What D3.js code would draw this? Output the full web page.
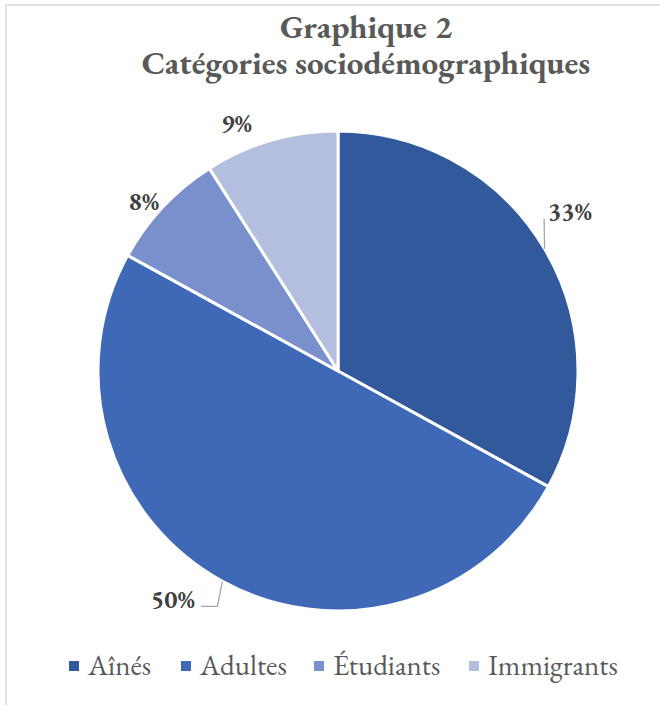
<!DOCTYPE html>
<html>
<head>
<meta charset="utf-8">
<script src="https://cdn.jsdelivr.net/npm/d3@7"></script>
<style>
  html, body { margin: 0; padding: 0; background: #fff; }
  svg { display: block; }
</style>
</head>
<body>
<svg id="chart" width="660" height="705"></svg>
<script>
const TITLE_LINES = ["Graphique 2", "Catégories sociodémographiques"];
const CATEGORIES = ["Aînés", "Adultes", "Étudiants", "Immigrants"];
const VALUES = [33, 50, 8, 9];
const COLORS = ["#31599b", "#3f69b7", "#7a90cd", "#b4bedf"];
// label placement: angle shift (deg) from slice middle, radius, leader line or not
const LABEL_LAYOUT = [
  { shift: -4, radius: 282, leader: true },
  { shift: 7, radius: 282, leader: true },
  { shift: -2, radius: 258, leader: false },
  { shift: -6, radius: 268, leader: false }
];

const width = 660;
const height = 705;
const cx = 338;
const cy = 371;
const radius = 240;
const FONT = '"EB Garamond", "Liberation Serif", serif';

const svg = d3.select("#chart").attr("font-family", FONT);

// chart frame (only top and left edges visible in the picture)
svg.append("rect")
  .attr("x", 6)
  .attr("y", 5)
  .attr("width", width + 20)
  .attr("height", height + 20)
  .attr("fill", "none")
  .attr("stroke", "#d9d9d9")
  .attr("stroke-width", 1.5);

svg.append("g")
  .selectAll("text")
  .data(TITLE_LINES)
  .join("text")
  .attr("x", 366)
  .attr("y", (d, i) => 38 + i * 36)
  .attr("text-anchor", "middle")
  .attr("fill", "#595959")
  .attr("font-family", FONT)
  .attr("font-weight", "bold")
  .attr("font-size", 33)
  .text((d) => d);

const slices = CATEGORIES.map((name, i) => ({ name, value: VALUES[i], color: COLORS[i], layout: LABEL_LAYOUT[i] }));

const pie = d3.pie().value((d) => d.value).sort(null);
const arc = d3.arc().innerRadius(0).outerRadius(radius);
const arcs = pie(slices);

const plot = svg.append("g").attr("transform", `translate(${cx},${cy})`);

plot.selectAll("path")
  .data(arcs)
  .join("path")
  .attr("d", arc)
  .attr("fill", (d) => d.data.color)
  .attr("stroke", "#fff")
  .attr("stroke-width", 3)
  .attr("stroke-linejoin", "round");

function polar(angle, r) {
  return [Math.sin(angle) * r, -Math.cos(angle) * r];
}

const labelGroup = plot.append("g");

arcs.forEach((d) => {
  const mid = (d.startAngle + d.endAngle) / 2;
  const lay = d.data.layout;
  const [lx, ly] = polar(mid + (lay.shift * Math.PI) / 180, lay.radius);
  const label = labelGroup.append("text")
    .attr("x", lx)
    .attr("y", ly)
    .attr("dy", "0.35em")
    .attr("text-anchor", "middle")
    .attr("fill", "#404040")
    .attr("font-family", FONT)
    .attr("font-weight", "bold")
    .attr("font-size", 25)
    .text(`${d.data.value}%`);

  if (!lay.leader) return;
  const box = label.node().getBBox();
  const [ex, ey] = polar(mid, radius);
  let points;
  if (lx > 0) {
    // label right of the pie: line rises to its lower-left corner
    const tx = box.x - 4;
    const ty = box.y + box.height - 8;
    points = [[ex, ey], [tx, ty]];
  } else {
    // label left of the pie: line drops then turns toward the label
    const by = box.y + box.height - 9;
    points = [[ex, ey], [ex - 5, by], [box.x + box.width + 6, by]];
  }
  labelGroup.append("path")
    .attr("d", d3.line()(points))
    .attr("fill", "none")
    .attr("stroke", "#a6a6a6")
    .attr("stroke-width", 1.3);
});

// legend
const LEGEND_X = [69, 181, 314, 469];
const legend = svg.append("g")
  .selectAll("g")
  .data(slices)
  .join("g")
  .attr("transform", (d, i) => `translate(${LEGEND_X[i]},661)`);

legend.append("rect")
  .attr("width", 10)
  .attr("height", 10)
  .attr("fill", (d) => d.color);

legend.append("text")
  .attr("x", 19)
  .attr("y", 14)
  .attr("fill", "#595959")
  .attr("font-family", FONT)
  .attr("font-size", 29)
  .text((d) => d.name);
</script>
</body>
</html>
